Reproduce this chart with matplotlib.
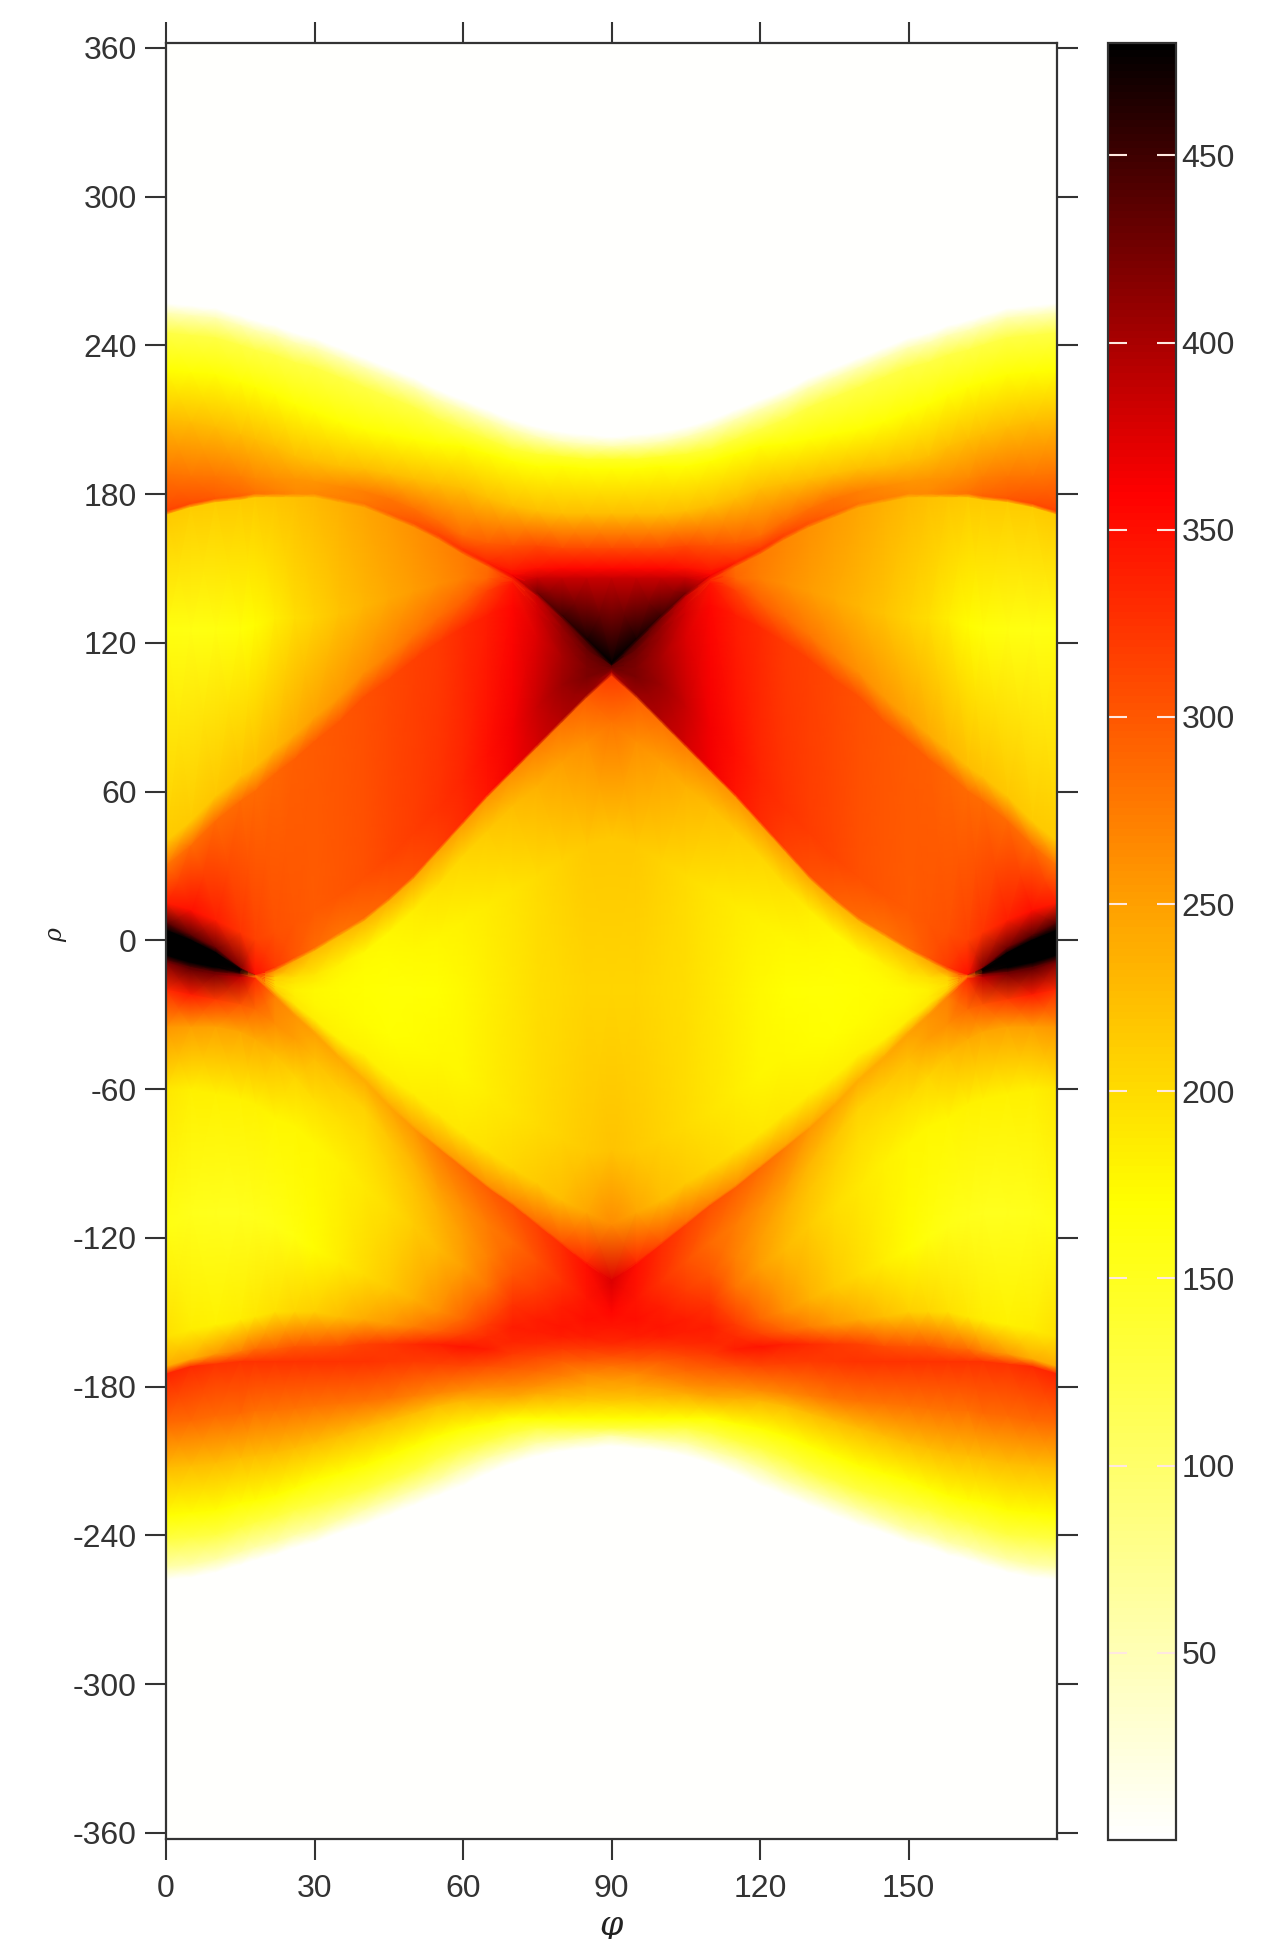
import numpy as np
import matplotlib
matplotlib.use("Agg")
import matplotlib.pyplot as plt
from matplotlib.colors import LinearSegmentedColormap

W, H = 1283, 1939

# left half columns, the right half is read as its mirror
phi_half = [0, 5, 10, 15, 18, 22, 26, 30, 35, 40, 45, 50, 55, 60, 65, 70, 75, 80, 85, 90]

# r of each traced feature (outer edge, band, creases, lobes...) per column, top to bottom
r_outer_top = [257, 256, 255, 252, 250, 248, 245, 243, 239, 235, 231, 227, 222, 218, 214, 210, 207, 205, 204, 203]
r_band1 = [253, 252, 251, 248, 246, 244, 241, 239, 235, 231, 227, 223, 218, 214, 210, 206, 203, 201, 200, 199]
r_band2 = [245, 244, 243, 240, 238, 236, 233, 231, 227, 223, 219, 215, 210, 206, 202, 198, 196, 195, 194, 194]
r_band3 = [230, 229, 228, 225, 223, 220, 216, 213, 209, 206, 204, 202, 200, 199, 196, 193, 191, 191, 190, 190]
r_band4 = [210, 209, 207, 204, 202, 199, 195, 193, 191, 190, 188, 186, 184, 182, 178, 175, 173, 172, 172, 172]
r_band5 = [188, 187, 187, 187, 186, 186, 186, 185, 183, 181, 178, 174, 169, 163, 160, 159, 159, 158, 158, 158]
r_band6 = [174, 177, 179, 180, 181, 181, 181, 181, 179, 177, 173, 169, 164, 158, 153, 149, 150, 150, 150, 150]
r_tri_top = [173.5, 176.5, 178.5, 179.5, 180.5, 180.5, 180.5, 180.5, 178.5, 176.5, 172.5, 168.5, 163.5, 157.5, 152.5, 147.5, 146, 146, 146, 146]
r_crease_up = [173, 176, 178, 179, 180, 180, 180, 180, 178, 176, 172, 168, 163, 157, 152, 147, 140, 131, 121.5, 112]
r_lobe_top = [171.5, 174.5, 176.5, 177.5, 178.5, 178.5, 178.5, 178.5, 176.5, 174.5, 170.5, 166.5, 161.5, 155.5, 150.5, 145.5, 138.5, 129.5, 120, 111]
r_lobe_mid = [125, 125, 125, 125, 127, 130, 130, 130, 132, 135, 138, 141, 144, 146, 146, 145, 135, 126, 117, 110.5]
r_soft_a = [40, 48, 58, 66, 70, 77, 83, 90, 98, 108, 115, 123, 130, 136, 141, 144, 132, 122, 114, 110]
r_soft_b = [30, 38, 48, 56, 60, 67, 73, 80, 88, 98, 105, 113, 120, 126, 131, 135, 122, 114, 110, 109.7]
r_deep = [15, 12, 8, 3, 0, 3, 7, 12, 18, 25, 33, 43, 53, 64, 75, 85, 94, 103, 106, 109.3]
r_dia_top = [7, 2, -3, -11, -14, -11, -7, -3, 3, 9, 17, 26, 37, 48, 59, 69, 79, 89, 99, 108]
r_dia_top2 = [4, 0, -5, -11.5, -14.1, -12.5, -8.5, -4.5, 1.5, 7.5, 15.5, 24.5, 35.5, 46.5, 57.5, 67.5, 77.5, 87.5, 97.5, 106.5]
r_dia_a = [0, -3, -7, -12, -14.2, -15, -15, -14, -10, -5, 3, 12, 22, 34, 44, 54, 62, 72, 80, 88]
r_dia_mid = [-1.5, -4.5, -8, -12.2, -14.25, -16.5, -17.5, -17, -15, -12, -8, -4, 1, 8, 14, 20, 26, 32, 38, 42]
r_dia_b = [-3, -6, -9, -12.5, -14.3, -18, -20, -20, -20, -20, -20, -20, -20, -20, -20, -20, -20, -20, -20, -20]
r_dia_c = [-4.5, -7.5, -10, -12.7, -14.35, -19, -23, -26, -30, -33, -38, -42, -47, -55, -62, -70, -75, -80, -85, -85]
r_dia_d = [-6, -9, -11, -13, -14.4, -20, -26, -32, -40, -46, -55, -62, -70, -78, -85, -92, -98, -105, -110, -115]
r_dia_low = [-8, -11, -13, -13.8, -14.5, -22, -30, -37, -47, -56, -66, -75, -83, -91, -99, -106, -114, -122, -130, -137]
r_out_low = [-9, -12, -14, -15, -15.5, -23, -31, -38, -48, -57, -67, -76, -84, -92, -100, -107, -115, -123, -131, -138]
r_low_a = [-20, -22, -24, -26, -28, -34, -40, -48, -60, -68, -80, -90, -100, -108, -115, -122, -130, -138, -145, -150]
r_low_b = [-35, -35, -35, -37, -40, -46, -55, -65, -72, -80, -92, -100, -110, -120, -128, -135, -142, -148, -153, -156]
r_low_c = [-60, -60, -62, -64, -66, -72, -75, -82, -90, -100, -108, -115, -125, -132, -140, -147, -153, -156, -160, -163]
r_low_d = [-115, -110, -110, -110, -112, -115, -120, -125, -130, -135, -140, -145, -150, -153, -155, -156, -158, -160, -165, -168]
r_low_e = [-160, -157, -155, -153, -152, -150, -150, -150, -152, -153, -155, -156, -158, -159, -160, -162, -163, -165, -170, -172]
r_low_f = [-172, -169, -167, -166, -165, -165, -164, -164, -164, -163, -163, -163, -163, -164, -165, -167, -168, -170, -175, -178]
r_crease_low = [-175, -172, -171, -170, -170, -170, -170, -170, -170, -170, -170, -170, -171, -172, -172, -173, -174, -176, -180, -182]
r_bot1 = [-195, -194, -192, -191, -190, -190, -189, -188, -187, -186, -185, -184, -183, -182, -181, -180, -180, -181, -184, -186]
r_bot2 = [-213, -212, -211, -209, -208, -207, -205, -203, -200, -197, -194, -191, -188, -186, -185, -184, -183, -184, -186, -188]
r_bot3 = [-232, -231, -230, -227, -226, -224, -221, -218, -215, -212, -208, -204, -200, -197, -195, -193, -193, -193, -193, -193]
r_bot4 = [-242, -241, -240, -237, -235, -233, -230, -228, -225, -222, -218, -214, -209, -205, -202, -199, -197, -197, -197, -197]
r_bot5 = [-253, -252, -250, -247, -245, -243, -240, -238, -234, -230, -226, -222, -218, -213, -209, -206, -203, -202, -201, -200]
r_outer_bot = [-258, -257, -255, -252, -250, -248, -245, -243, -239, -236, -232, -228, -224, -220, -215, -211, -208, -206, -205, -204]

# accumulator value on the same features
v_outer_top = [0] * 20
v_band1 = [50] * 19 + [60]
v_band2 = [125] * 14 + [130, 135, 140, 142, 145, 145]
v_band3 = [170] * 20
v_band4 = [225] * 20
v_band5 = [280, 280, 278, 272, 268, 262, 258, 258, 265, 272, 280, 282, 284, 288, 297, 305, 310, 310, 310, 310]
v_band6 = [310, 305, 298, 290, 280, 272, 265, 265, 270, 277, 290, 300, 310, 320, 330, 345, 350, 355, 355, 355]
v_tri_top = [312, 306, 299, 291, 281, 273, 266, 266, 271, 278, 291, 301, 311, 322, 335, 355, 385, 385, 385, 385]
v_crease_up = [312, 306, 299, 291, 281, 273, 266, 266, 271, 278, 291, 301, 311, 322, 335, 365, 425, 450, 470, 480]
v_lobe_top = [215, 212, 212, 214, 215, 218, 222, 228, 236, 244, 252, 260, 268, 275, 285, 335, 385, 420, 445, 470]
v_lobe_mid = [160, 158, 160, 166, 172, 185, 198, 208, 220, 232, 243, 252, 262, 272, 290, 335, 380, 410, 430, 440]
v_soft_a = [215, 215, 218, 222, 225, 232, 240, 248, 255, 262, 270, 278, 285, 295, 315, 345, 380, 405, 425, 435]
v_soft_b = [280, 285, 285, 285, 285, 290, 295, 298, 300, 305, 310, 315, 320, 330, 340, 355, 375, 400, 420, 430]
v_deep = [340, 350, 340, 325, 315, 305, 300, 298, 300, 305, 312, 318, 325, 335, 350, 365, 385, 405, 420, 425]
v_dia_top = [440, 440, 430, 420, 350, 320, 300, 285, 280, 285, 295, 305, 315, 330, 345, 365, 380, 395, 405, 400]
v_dia_top2 = [480, 480, 480, 470, 340, 255, 240, 225, 225, 230, 235, 240, 245, 250, 255, 262, 270, 280, 295, 320]
v_dia_a = [480, 480, 480, 480, 320, 210, 195, 190, 180, 175, 178, 185, 195, 205, 215, 225, 235, 250, 262, 280]
v_dia_mid = [480, 480, 480, 478, 310, 205, 188, 182, 176, 172, 172, 175, 178, 180, 186, 192, 200, 208, 214, 216]
v_dia_b = [480, 480, 480, 475, 300, 200, 180, 175, 172, 170, 168, 168, 170, 175, 182, 190, 197, 202, 205, 205]
v_dia_c = [480, 480, 480, 470, 295, 205, 185, 178, 175, 172, 170, 172, 175, 178, 185, 192, 200, 208, 215, 220]
v_dia_d = [480, 480, 480, 465, 290, 210, 190, 185, 180, 180, 182, 185, 188, 190, 195, 205, 215, 225, 245, 265]
v_dia_low = [440, 440, 430, 420, 280, 255, 250, 240, 235, 235, 238, 242, 248, 255, 262, 270, 285, 305, 335, 375]
v_out_low = [420, 430, 420, 390, 330, 270, 258, 248, 240, 238, 245, 255, 275, 285, 295, 305, 315, 330, 350, 375]
v_low_a = [330, 340, 320, 300, 285, 262, 250, 225, 210, 208, 218, 232, 250, 262, 275, 285, 305, 325, 345, 355]
v_low_b = [255, 250, 248, 245, 240, 225, 205, 195, 195, 197, 207, 220, 235, 252, 270, 300, 320, 340, 350, 345]
v_low_c = [190, 183, 180, 180, 180, 178, 178, 178, 180, 188, 197, 212, 228, 250, 280, 325, 340, 345, 340, 330]
v_low_d = [158, 153, 150, 150, 152, 156, 162, 172, 185, 200, 215, 235, 262, 290, 320, 340, 340, 340, 320, 305]
v_low_e = [195, 185, 180, 185, 190, 195, 205, 210, 225, 240, 255, 272, 295, 315, 330, 335, 330, 320, 295, 280]
v_low_f = [240, 240, 255, 275, 285, 295, 300, 302, 308, 315, 322, 330, 338, 345, 340, 320, 310, 295, 265, 250]
v_crease_low = [335, 330, 325, 325, 325, 325, 325, 325, 325, 325, 322, 320, 315, 310, 305, 295, 285, 270, 245, 235]
v_bot1 = [285, 285, 285, 285, 282, 280, 280, 280, 280, 280, 278, 270, 265, 262, 262, 265, 260, 245, 225, 215]
v_bot2 = [225] * 13 + [230, 238, 245, 240, 230, 215, 200]
v_bot3 = [170] * 20
v_bot4 = [125] * 20
v_bot5 = [55] * 20
v_outer_bot = [0] * 20

r_ticks = list(range(-360, 361, 60))
phi_ticks = [0, 30, 60, 90, 120, 150]
cbar_ticks = [50, 100, 150, 200, 250, 300, 350, 400, 450]

r_half = np.array([
    r_outer_top, r_band1, r_band2, r_band3, r_band4, r_band5, r_band6, r_tri_top, r_crease_up,
    r_lobe_top, r_lobe_mid, r_soft_a, r_soft_b, r_deep, r_dia_top, r_dia_top2, r_dia_a, r_dia_mid, r_dia_b,
    r_dia_c, r_dia_d, r_dia_low, r_out_low, r_low_a, r_low_b, r_low_c, r_low_d, r_low_e, r_low_f,
    r_crease_low, r_bot1, r_bot2, r_bot3, r_bot4, r_bot5, r_outer_bot], dtype=float)
v_half = np.array([
    v_outer_top, v_band1, v_band2, v_band3, v_band4, v_band5, v_band6, v_tri_top, v_crease_up,
    v_lobe_top, v_lobe_mid, v_soft_a, v_soft_b, v_deep, v_dia_top, v_dia_top2, v_dia_a, v_dia_mid, v_dia_b,
    v_dia_c, v_dia_d, v_dia_low, v_out_low, v_low_a, v_low_b, v_low_c, v_low_d, v_low_e, v_low_f,
    v_crease_low, v_bot1, v_bot2, v_bot3, v_bot4, v_bot5, v_outer_bot], dtype=float)

phi_all = np.array(phi_half + [180 - p for p in phi_half[-2::-1]], dtype=float)
r_all = np.hstack([r_half, r_half[:, -2::-1]])
v_all = np.hstack([v_half, v_half[:, -2::-1]])
phi_grid = np.tile(phi_all, (r_all.shape[0], 1))

plt.rcParams["font.family"] = ["Liberation Sans", "DejaVu Sans"]
plt.rcParams["axes.unicode_minus"] = False

# white -> yellow -> red -> black, stops taken from the colorbar
cmap = LinearSegmentedColormap.from_list(
    "hot_flip",
    [(0.0, "#ffffff"), (170 / 480, "#ffff00"), (250 / 480, "#ffa000"),
     (360 / 480, "#ff0000"), (1.0, "#000000")],
)

fig = plt.figure(figsize=(W / 100, H / 100), dpi=100, facecolor="white")

def px_axes(x0, y0, x1, y1):
    return fig.add_axes([x0 / W, 1 - y1 / H, (x1 - x0) / W, (y1 - y0) / H])

ax = px_axes(166, 43, 1057, 1839)
ax.set_facecolor("#fffffd")
im = ax.pcolormesh(phi_grid, r_all, v_all, shading="gouraud", cmap=cmap, vmin=0, vmax=480)
ax.set_xlim(0, 180)
ax.set_ylim(-362.5, 362)

ink = "#333333"
ax.set_xticks(phi_ticks)
ax.set_yticks(r_ticks)
ax.tick_params(axis="both", direction="out", length=15, width=1.5, color=ink,
               labelcolor=ink, labelsize=23, top=True, right=True)
ax.tick_params(axis="y", pad=6)
ax.tick_params(axis="x", pad=10)
for s in ax.spines.values():
    s.set_linewidth(1.6)
    s.set_color(ink)

fig.text(56 / W, 1 - 935 / H, "ρ", rotation=90, fontsize=17, style="italic",
         color="#222222", ha="center", va="center", family="DejaVu Serif")
fig.text(611 / W, 1 - 1926 / H, "φ", fontsize=24, style="italic",
         color="#222222", ha="center", va="center", family="DejaVu Serif")

cax = px_axes(1108, 43, 1176, 1840)
cb = fig.colorbar(im, cax=cax)
cb.set_ticks(cbar_ticks)
cax.tick_params(axis="y", direction="in", length=14, width=1.5, colors="#ffe8e0",
                left=True, right=True, labelsize=23, labelcolor=ink, pad=4)
cb.outline.set_linewidth(1.6)
cb.outline.set_edgecolor(ink)

fig.savefig("out.png", dpi=100)
